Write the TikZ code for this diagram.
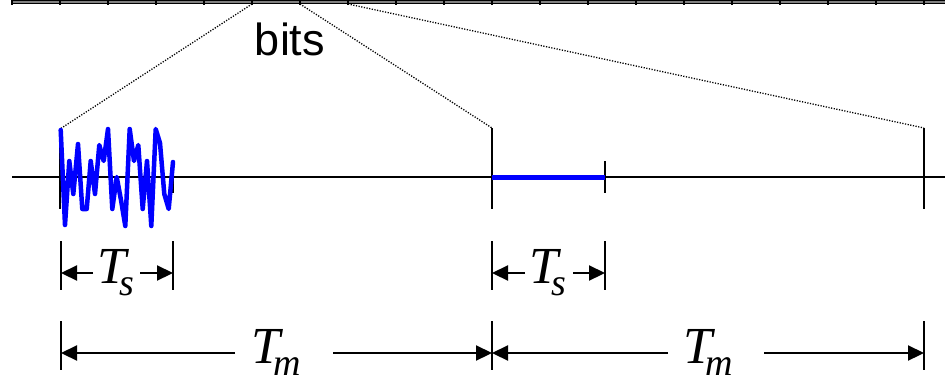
\documentclass[tikz,border=0pt]{standalone}
\usepackage{fontspec}
\setmainfont{Liberation Serif}
\newfontfamily\arialf{Liberation Sans}
\usetikzlibrary{arrows.meta}
\newcommand{\Tlab}[1]{{\fontsize{52}{52}\selectfont\itshape T\kern-7pt\raisebox{-12pt}{\fontsize{38}{38}\selectfont #1}}}
\begin{document}
\begin{tikzpicture}[x=1pt,y=-1pt,
  axisline/.style={line width=1.5pt},
  tickline/.style={line width=2pt},
  dimarrow/.style={line width=2.2pt, -{Triangle[length=16pt,width=15pt]}},
  sig/.style={blue, line width=4.5pt, line join=round, line cap=round},
  guide/.style={line width=1.3pt, dash pattern=on 1.2pt off 1.5pt},
  lbl/.style={inner sep=0pt, anchor=base}]
\useasboundingbox (0,0) rectangle (945,381);
% top bit bar
\fill[gray] (12,0) rectangle (945,3.6);
\draw[line width=1.3pt] (12,0.6) -- (945,0.6);
\draw[line width=1.3pt] (12,3.2) -- (945,3.2);
\foreach \i in {0,...,19} \draw[line width=2pt] (12+48*\i,0) -- (12+48*\i,5);
\coordinate (b5) at (252,4);
\coordinate (b6) at (300,4);
\coordinate (b7) at (348,4);
\node[lbl, font=\arialf\fontsize{45}{45}\selectfont] (bits) at (290,55) {bits};
% main axis
\coordinate (ax0) at (12,177);
\coordinate (ax1) at (945,177);
\draw[axisline] (ax0) -- (ax1);
\coordinate (t1a) at (60,129); \coordinate (t1b) at (60,209);
\coordinate (t2a) at (173,161); \coordinate (t2b) at (173,193);
\coordinate (t3a) at (492,128); \coordinate (t3b) at (492,209);
\coordinate (t4a) at (605,161); \coordinate (t4b) at (605,193);
\coordinate (t5a) at (924,128); \coordinate (t5b) at (924,209);
\foreach \k in {1,...,5} \draw[tickline] (t\k a) -- (t\k b);
% dotted guides
\draw[guide] (b5) -- (t1a);
\draw[guide] (b6) -- (t3a);
\draw[guide] (b7) -- (t5a);
% signals
\draw[sig] (60.7,130) -- (65,225) -- (69.3,161) -- (73.3,194) -- (78,144) -- (82.3,209) -- (86.7,209) -- (90.7,161) -- (95,194) -- (99.3,145) -- (103.7,161) -- (108,129) -- (112.3,209) -- (116.7,177) -- (121,200) -- (125.3,226) -- (129.7,129) -- (134,161) -- (138.3,145) -- (142.7,209) -- (147,161) -- (151.3,226) -- (155.7,129) -- (160,143) -- (164.3,194) -- (168.7,209) -- (173,162);
\draw[blue, line width=5pt] (t3a |- ax0) -- (t4a |- ax0);
% Ts dimensions
\coordinate (s1a) at (61,241); \coordinate (s1b) at (61,290);
\coordinate (s2a) at (173,241); \coordinate (s2b) at (173,290);
\coordinate (s3a) at (492,241); \coordinate (s3b) at (492,290);
\coordinate (s4a) at (605,241); \coordinate (s4b) at (605,290);
\foreach \k in {1,...,4} \draw[tickline] (s\k a) -- (s\k b);
\node[lbl] (ts1) at (116,283) {\Tlab{s}};
\node[lbl] (ts2) at (548,283) {\Tlab{s}};
\coordinate (ts1l) at (93,273); \coordinate (ts1r) at (140,273);
\coordinate (ts2l) at (525,273); \coordinate (ts2r) at (573,273);
\draw[dimarrow] (ts1l) -- (s1a |- ts1l);
\draw[dimarrow] (ts1r) -- (s2a |- ts1r);
\draw[dimarrow] (ts2l) -- (s3a |- ts2l);
\draw[dimarrow] (ts2r) -- (s4a |- ts2r);
% Tm dimensions
\coordinate (m1a) at (61,321); \coordinate (m1b) at (61,370);
\coordinate (m2a) at (492,321); \coordinate (m2b) at (492,370);
\coordinate (m3a) at (924,321); \coordinate (m3b) at (924,370);
\foreach \k in {1,...,3} \draw[tickline] (m\k a) -- (m\k b);
\node[lbl] (tm1) at (276,363) {\Tlab{m}};
\node[lbl] (tm2) at (708,363) {\Tlab{m}};
\coordinate (tm1l) at (235,353); \coordinate (tm1r) at (333,353);
\coordinate (tm2l) at (668,353); \coordinate (tm2r) at (764,353);
\draw[dimarrow] (tm1l) -- (m1a |- tm1l);
\draw[dimarrow] (tm1r) -- (m2a |- tm1r);
\draw[dimarrow] (tm2l) -- (m2a |- tm2l);
\draw[dimarrow] (tm2r) -- (m3a |- tm2r);
\end{tikzpicture}
\end{document}
